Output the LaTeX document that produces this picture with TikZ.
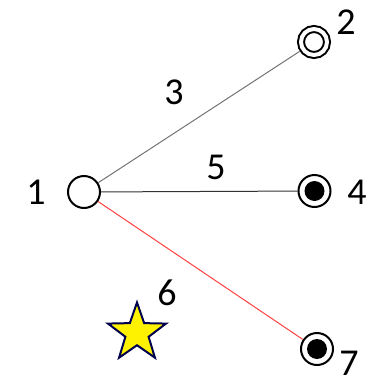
\documentclass[tikz,border=0pt]{standalone}
\usepackage{fontspec}
\setmainfont{Carlito}
\usetikzlibrary{shapes.geometric}

\tikzset{
  plain/.style={circle, draw, line width=2pt, minimum size=32pt, inner sep=0pt, fill=white},
  ring/.style={circle, draw, line width=2pt, double=white, double distance=4pt, minimum size=26pt, inner sep=0pt, outer sep=4pt},
  dotring/.style={plain, path picture={\fill[black] (path picture bounding box.center) circle (10pt);}},
  num/.style={font=\fontsize{38}{44}\selectfont, inner sep=0pt}
}

\begin{document}
\begin{tikzpicture}[x=1pt, y=-1pt]
    \useasboundingbox (0,0) rectangle (370,381);

    \node[plain] (n1) at (84,192) {};
    \node[ring] (n2) at (314,42) {};
    \node[dotring] (n4) at (314.5,191) {};
    \node[dotring] (n7) at (317,349) {};

    \draw[gray!90!black, line width=1pt] (n1) -- (n2);
    \draw[black!80, line width=1pt] (n1) -- (n4);
    \draw[red!75, line width=1pt] (n1) -- (n7);

    \node[star, star points=5, star point ratio=2.5, minimum size=61pt, inner sep=0pt,
          fill=yellow, draw=blue!30!black, line width=2pt] (s6) at (137,333) {};

    \node[num] (l1) at (36,192) {1};
    \node[num] (l2) at (346,22) {2};
    \node[num] (l3) at (174,92) {3};
    \node[num] (l4) at (357,192) {4};
    \node[num] (l5) at (216,167) {5};
    \node[num] (l6) at (167,293) {6};
    \node[num] (l7) at (349,363) {7};
\end{tikzpicture}
\end{document}
